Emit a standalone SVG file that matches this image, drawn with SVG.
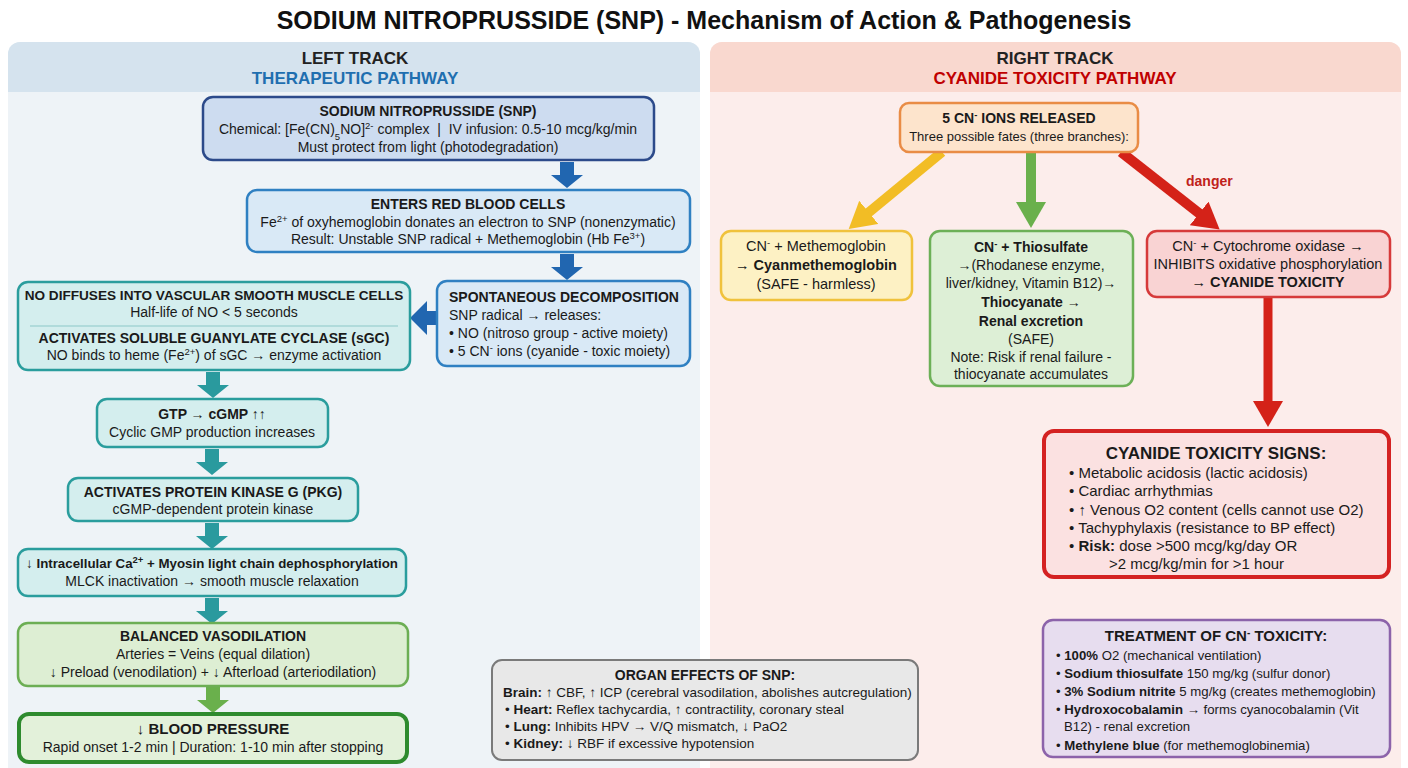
<svg xmlns="http://www.w3.org/2000/svg" xmlns:xlink="http://www.w3.org/1999/xlink" width="1408" height="768" viewBox="0 0 1408 768">
<style>
text{font-family:"Liberation Sans",Arial,sans-serif;fill:#1a1a1a}
.tt{font-size:25px;font-weight:bold;fill:#111}
.hd{font-size:17px;font-weight:bold;fill:#222}
.b{font-size:14px;font-weight:bold}
.n{font-size:14px}
.s{font-size:13px}
.m{font-size:14.5px}
.mb{font-size:14px;font-weight:bold}
.l{font-size:15px}
.tr{font-size:13.2px}
.c{text-anchor:middle}
.bold{font-weight:bold}
.box{stroke-width:2.5}
</style>
<defs>
<path id="dn" d="M-7,0 H7 V13 H16 L0,26 L-16,13 H-7 Z"/>
<marker id="hY" markerWidth="26" markerHeight="30" refX="1" refY="15" orient="auto" markerUnits="userSpaceOnUse"><path d="M0,0 L26,15 L0,30 Z" fill="#f2bd25"/></marker>
<marker id="hG" markerWidth="26" markerHeight="30" refX="1" refY="15" orient="auto" markerUnits="userSpaceOnUse"><path d="M0,0 L26,15 L0,30 Z" fill="#6ab04c"/></marker>
<marker id="hR" markerWidth="26" markerHeight="30" refX="1" refY="15" orient="auto" markerUnits="userSpaceOnUse"><path d="M0,0 L26,15 L0,30 Z" fill="#d42218"/></marker>
</defs>
<rect width="1408" height="768" fill="#ffffff"/>
<text class="tt c" x="704" y="29">SODIUM NITROPRUSSIDE (SNP) - Mechanism of Action &amp; Pathogenesis</text>

<g id="panel-left">
<rect x="8" y="42" width="692" height="740" rx="12" fill="#eef3f7"/>
<path d="M8,92 V54 A12,12 0 0 1 20,42 H688 A12,12 0 0 1 700,54 V92 Z" fill="#d5e3ee"/>
<text class="hd c" x="355" y="64">LEFT TRACK</text>
<text class="hd c" x="355" y="84" style="fill:#1f6fb0">THERAPEUTIC PATHWAY</text>
</g>
<g id="panel-right">
<rect x="710" y="42" width="691" height="740" rx="12" fill="#fcedeb"/>
<path d="M710,92 V54 A12,12 0 0 1 722,42 H1389 A12,12 0 0 1 1401,54 V92 Z" fill="#f9d8cf"/>
<text class="hd c" x="1055" y="64">RIGHT TRACK</text>
<text class="hd c" x="1055" y="84" style="fill:#c00000">CYANIDE TOXICITY PATHWAY</text>
</g>

<g id="connectors">
<use xlink:href="#dn" transform="translate(567,162)" fill="#2166b0"/>
<use xlink:href="#dn" transform="translate(567,254)" fill="#2166b0"/>
<path d="M437,311 V325 H427 V335 L410,318 L427,301 V311 Z" fill="#2166b0"/>
<use xlink:href="#dn" transform="translate(213,372)" fill="#2a9a9e"/>
<use xlink:href="#dn" transform="translate(212,449)" fill="#2a9a9e"/>
<use xlink:href="#dn" transform="translate(212,523)" fill="#2a9a9e"/>
<use xlink:href="#dn" transform="translate(212,598)" fill="#2a9a9e"/>
<use xlink:href="#dn" transform="translate(213,687)" fill="#6ab04c"/>
<line x1="942" y1="152" x2="868" y2="213" stroke="#f2bd25" stroke-width="10" marker-end="url(#hY)"/>
<line x1="1031" y1="152" x2="1031" y2="203" stroke="#6ab04c" stroke-width="10" marker-end="url(#hG)"/>
<line x1="1121" y1="152" x2="1200" y2="214" stroke="#d42218" stroke-width="10" marker-end="url(#hR)"/>
<text class="mb" x="1186" y="186" style="fill:#c0221a">danger</text>
<line x1="1268" y1="297" x2="1268" y2="402" stroke="#d42218" stroke-width="9" marker-end="url(#hR)"/>
</g>

<g id="snp">
<rect class="box" x="203" y="97" width="451" height="63" rx="10" fill="#cddcf0" stroke="#2c4a8a"/>
<text class="b c" x="428" y="116">SODIUM NITROPRUSSIDE (SNP)</text>
<text class="n c" x="428" y="134">Chemical: [Fe(CN)<tspan font-size="9.5" baseline-shift="sub">5</tspan>NO]<tspan font-size="9.5" baseline-shift="super">2-</tspan> complex &#160;|&#160; IV infusion: 0.5-10 mcg/kg/min</text>
<text class="n c" x="428" y="152">Must protect from light (photodegradation)</text>
</g>
<g id="rbc">
<rect class="box" x="247" y="190" width="443" height="62" rx="10" fill="#d9e9f6" stroke="#2f80c2"/>
<text class="b c" x="468" y="209">ENTERS RED BLOOD CELLS</text>
<text class="n c" x="468" y="227">Fe<tspan font-size="9.5" baseline-shift="super">2+</tspan> of oxyhemoglobin donates an electron to SNP (nonenzymatic)</text>
<text class="n c" x="468" y="244">Result: Unstable SNP radical + Methemoglobin (Hb Fe<tspan font-size="9.5" baseline-shift="super">3+</tspan>)</text>
</g>
<g id="decomp">
<rect class="box" x="437" y="281" width="253" height="85" rx="10" fill="#d9e9f6" stroke="#2f80c2"/>
<text class="mb" x="449" y="302">SPONTANEOUS DECOMPOSITION</text>
<text class="n" x="449" y="320">SNP radical → releases:</text>
<text class="n" x="449" y="338">• NO (nitroso group - active moiety)</text>
<text class="n" x="449" y="356">• 5 CN<tspan font-size="9.5" baseline-shift="super">-</tspan> ions (cyanide - toxic moiety)</text>
</g>
<g id="no-diffuses">
<rect class="box" x="18" y="282" width="392" height="88" rx="10" fill="#d4eeee" stroke="#2a9d9d"/>
<text class="b c" x="214" y="300" style="font-size:13.6px">NO DIFFUSES INTO VASCULAR SMOOTH MUSCLE CELLS</text>
<text class="n c" x="214" y="317">Half-life of NO &lt; 5 seconds</text>
<line x1="30" y1="326" x2="398" y2="326" stroke="#8cc8c8" stroke-width="1.2"/>
<text class="b c" x="214" y="343">ACTIVATES SOLUBLE GUANYLATE CYCLASE (sGC)</text>
<text class="n c" x="214" y="360">NO binds to heme (Fe<tspan font-size="9.5" baseline-shift="super">2+</tspan>) of sGC → enzyme activation</text>
</g>
<g id="gtp">
<rect class="box" x="97" y="399" width="231" height="48" rx="10" fill="#d4eeee" stroke="#2a9d9d"/>
<text class="b c" x="212" y="419">GTP → cGMP ↑↑</text>
<text class="n c" x="212" y="437">Cyclic GMP production increases</text>
</g>
<g id="pkg">
<rect class="box" x="68" y="478" width="290" height="43" rx="10" fill="#d4eeee" stroke="#2a9d9d"/>
<text class="b c" x="213" y="497">ACTIVATES PROTEIN KINASE G (PKG)</text>
<text class="n c" x="213" y="514">cGMP-dependent protein kinase</text>
</g>
<g id="calcium">
<rect class="box" x="18" y="549" width="388" height="47" rx="10" fill="#d4eeee" stroke="#2a9d9d"/>
<text class="b c" x="212" y="568" style="font-size:13.3px">↓ Intracellular Ca<tspan font-size="9.5" baseline-shift="super">2+</tspan> + Myosin light chain dephosphorylation</text>
<text class="n c" x="212" y="586">MLCK inactivation → smooth muscle relaxation</text>
</g>
<g id="vasodilation">
<rect class="box" x="18" y="623" width="390" height="63" rx="10" fill="#ddeed3" stroke="#6cae54"/>
<text class="b c" x="213" y="641">BALANCED VASODILATION</text>
<text class="n c" x="213" y="659">Arteries = Veins (equal dilation)</text>
<text class="n c" x="213" y="677">↓ Preload (venodilation) + ↓ Afterload (arteriodilation)</text>
</g>
<g id="bp">
<rect x="19" y="714" width="388" height="48" rx="10" fill="#e3f1da" stroke="#2e8b2e" stroke-width="4"/>
<text class="c" x="213" y="734" style="font-size:15px;font-weight:bold">↓ BLOOD PRESSURE</text>
<text class="n c" x="213" y="752">Rapid onset 1-2 min | Duration: 1-10 min after stopping</text>
</g>
<g id="organ">
<rect x="492" y="660" width="426" height="100" rx="10" fill="#e8e8e8" stroke="#7a7a7a" stroke-width="2"/>
<text class="b c" x="705" y="680">ORGAN EFFECTS OF SNP:</text>
<text x="503" y="697" style="font-size:13.5px"><tspan class="bold">Brain:</tspan> ↑ CBF, ↑ ICP (cerebral vasodilation, abolishes autcregulation)</text>
<text x="505" y="714" style="font-size:13.5px">• <tspan class="bold">Heart:</tspan> Reflex tachycardia, ↑ contractility, coronary steal</text>
<text x="505" y="731" style="font-size:13.5px">• <tspan class="bold">Lung:</tspan> Inhibits HPV → V/Q mismatch, ↓ PaO2</text>
<text x="505" y="748" style="font-size:13.5px">• <tspan class="bold">Kidney:</tspan> ↓ RBF if excessive hypotension</text>
</g>

<g id="cn-released">
<rect class="box" x="900" y="103" width="238" height="49" rx="9" fill="#fde4cc" stroke="#e98c45"/>
<text class="b c" x="1019" y="123">5 CN<tspan font-size="9.5" baseline-shift="super">-</tspan> IONS RELEASED</text>
<text class="s c" x="1019" y="141">Three possible fates (three branches):</text>
</g>
<g id="cyanmet">
<rect class="box" x="721" y="231" width="191" height="69" rx="10" fill="#fdf1c4" stroke="#f0c23c"/>
<text class="m c" x="816" y="251">CN<tspan font-size="9.5" baseline-shift="super">-</tspan> + Methemoglobin</text>
<text class="m c" x="816" y="270">→ <tspan class="bold">Cyanmethemoglobin</tspan></text>
<text class="m c" x="816" y="289">(SAFE - harmless)</text>
</g>
<g id="thiosulfate">
<rect class="box" x="930" y="231" width="203" height="155" rx="10" fill="#ddefd6" stroke="#6cb057"/>
<text class="mb c" x="1031" y="252">CN<tspan font-size="9.5" baseline-shift="super">-</tspan> + Thiosulfate</text>
<text class="n c" x="1031" y="270">→(Rhodanese enzyme,</text>
<text class="n c" x="1031" y="288">liver/kidney, Vitamin B12)→</text>
<text class="mb c" x="1031" y="307">Thiocyanate →</text>
<text class="mb c" x="1031" y="326">Renal excretion</text>
<text class="n c" x="1031" y="344">(SAFE)</text>
<text class="n c" x="1031" y="362">Note: Risk if renal failure -</text>
<text class="n c" x="1031" y="379">thiocyanate accumulates</text>
</g>
<g id="cytochrome">
<rect class="box" x="1147" y="231" width="243" height="66" rx="10" fill="#f9d3d3" stroke="#d63a3a"/>
<text class="m c" x="1268" y="251">CN<tspan font-size="9.5" baseline-shift="super">-</tspan> + Cytochrome oxidase →</text>
<text class="m c" x="1268" y="269">INHIBITS oxidative phosphorylation</text>
<text class="m c" x="1268" y="287">→ <tspan class="bold">CYANIDE TOXICITY</tspan></text>
</g>
<g id="signs">
<rect x="1044" y="431" width="345" height="146" rx="10" fill="#fbe1e1" stroke="#d42222" stroke-width="4"/>
<text class="c" x="1216" y="459" style="font-size:17px;font-weight:bold">CYANIDE TOXICITY SIGNS:</text>
<text class="l" x="1069" y="478">• Metabolic acidosis (lactic acidosis)</text>
<text class="l" x="1069" y="496">• Cardiac arrhythmias</text>
<text class="l" x="1069" y="515">• ↑ Venous O2 content (cells cannot use O2)</text>
<text class="l" x="1069" y="533">• Tachyphylaxis (resistance to BP effect)</text>
<text class="l" x="1069" y="551">• <tspan class="bold">Risk:</tspan> dose &gt;500 mcg/kg/day OR</text>
<text class="l" x="1109" y="569">&gt;2 mcg/kg/min for &gt;1 hour</text>
</g>
<g id="treatment">
<rect x="1043" y="620" width="347" height="137" rx="10" fill="#e7ddef" stroke="#8c63aa" stroke-width="2.5"/>
<text class="b c" x="1216" y="641" style="font-size:15px">TREATMENT OF CN<tspan font-size="10" baseline-shift="super">-</tspan> TOXICITY:</text>
<text class="tr" x="1056" y="660">• <tspan class="bold">100%</tspan> O2 (mechanical ventilation)</text>
<text class="tr" x="1056" y="678">• <tspan class="bold">Sodium thiosulfate</tspan> 150 mg/kg (sulfur donor)</text>
<text class="tr" x="1056" y="696">• <tspan class="bold">3% Sodium nitrite</tspan> 5 mg/kg (creates methemoglobin)</text>
<text class="tr" x="1056" y="714">• <tspan class="bold">Hydroxocobalamin</tspan> → forms cyanocobalamin (Vit</text>
<text class="tr" x="1064" y="731">B12) - renal excretion</text>
<text class="tr" x="1056" y="750">• <tspan class="bold">Methylene blue</tspan> (for methemoglobinemia)</text>
</g>
</svg>
